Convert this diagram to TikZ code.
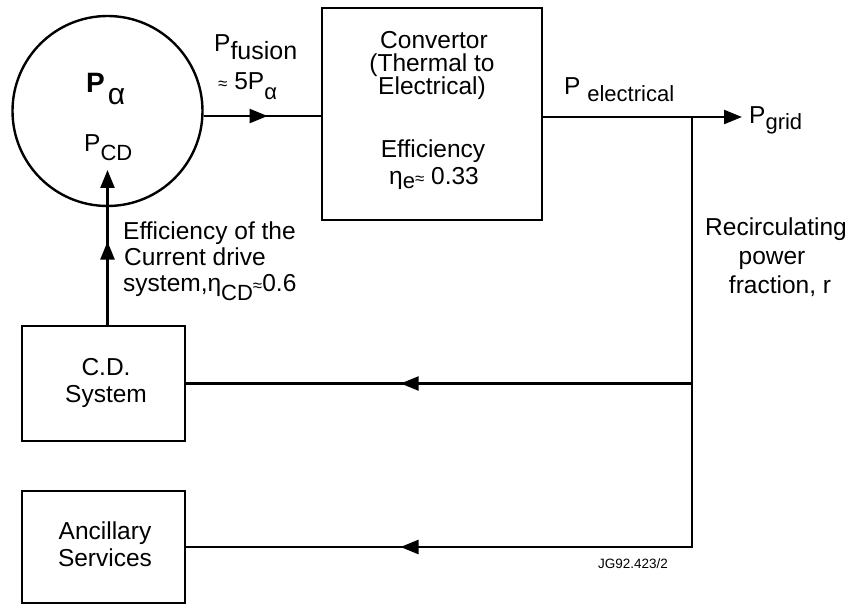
\documentclass[tikz,border=0pt]{standalone}
\usepackage{fontspec}
\setmainfont{Liberation Sans}
\usetikzlibrary{arrows.meta,decorations.markings}
\newcommand\sbx[2][8pt]{\raisebox{-#1}{\fontsize{22}{22}\selectfont #2}}
\newcommand\apx{{\fontsize{17}{17}\selectfont ≈}}
\begin{document}
\begin{tikzpicture}[x=1pt,y=-1pt, line width=2.4pt,
  tip/.style={-{Triangle[length=18pt,width=14pt]}},
  mid/.style={postaction={decorate},decoration={markings,mark=at position #1 with {\arrow{Triangle[length=18pt,width=14pt]}}}},
  box/.style={draw, line width=2.4pt, inner sep=0pt},
  txt/.style={font=\fontsize{24.5}{27}\selectfont, inner sep=0pt, anchor=base},
]
\useasboundingbox (0,0) rectangle (860,604);

% blocks
\node[box, circle, minimum size=190pt] (pa) at (107.5,111) {};
\node[box, minimum width=220pt, minimum height=212pt] (conv) at (432,114) {};
\node[box, minimum width=163pt, minimum height=115pt] (cd) at (103.5,383.5) {};
\node[box, minimum width=163pt, minimum height=112pt] (anc) at (103.5,547) {};

% circle texts
\node[txt, anchor=base west] (palpha) at (85,93) {\fontsize{28}{28}\selectfont\bfseries P\kern3pt\raisebox{-12pt}{\fontsize{30}{30}\selectfont\mdseries α}};
\node[txt, anchor=base west] (pcd) at (83,152) {P\sbx[9pt]{CD}};

% fusion
\node[txt, anchor=base west] (pfus) at (213,52) {P\sbx[8pt]{\fontsize{25}{25}\selectfont fusion}};
\node[txt, anchor=base west] (papprox) at (217,90) {\apx\ 5P\sbx[10pt]{α}};

% convertor texts
\node[txt] (c1) at (434,49) {Convertor};
\node[txt] (c2) at (432,72) {(Thermal to};
\node[txt] (c3) at (432,95) {Electrical)};
\node[txt] (c4) at (433,158) {Efficiency};
\node[txt] (c5) at (434,185) {η\sbx[4pt]{e}\apx\ 0.33};

% electrical / grid
\node[txt, anchor=base west] (pel) at (563,95) {P \sbx[7pt]{electrical}};
\node[txt, anchor=base west] (pgrid) at (748,124) {P\sbx[6pt]{grid}};

% efficiency of CD
\node[txt, anchor=base west] (e1) at (122,240) {Efficiency of the};
\node[txt, anchor=base west] (e2) at (123,266) {Current drive};
\node[txt, anchor=base west] (e3) at (122,292) {system,η\sbx[9pt]{CD}\apx0.6};

% recirculating
\node[txt] (r1) at (776,236) {Recirculating};
\node[txt] (r2) at (772,265) {power};
\node[txt] (r3) at (780,294) {fraction, r};

% box texts
\node[txt] (cd1) at (106,375) {C.D.};
\node[txt] (cd2) at (106,402) {System};
\node[txt] (an1) at (105,539) {Ancillary};
\node[txt] (an2) at (105,566) {Services};

\node[anchor=base, inner sep=0pt, font=\fontsize{13.5}{13.5}\selectfont] (jg) at (633,568) {JG92.423/2};

% connectors
\coordinate (j) at (692,117);
\coordinate (cdin) at (107.5,170);
\draw[mid=0.546] (pa.-3.6) -- (pa.-3.6 -| conv.west);
\draw[tip, shorten >=6pt] (j -| conv.east) -- (j -| pgrid.west);
\draw[mid=0.771] (j) |- (anc.east);
\draw[mid=0.576] (j |- cd.east) -- (cd.east);
\draw[tip, mid=0.538] (pa.center |- cd.north) -- (cdin);
\end{tikzpicture}
\end{document}
